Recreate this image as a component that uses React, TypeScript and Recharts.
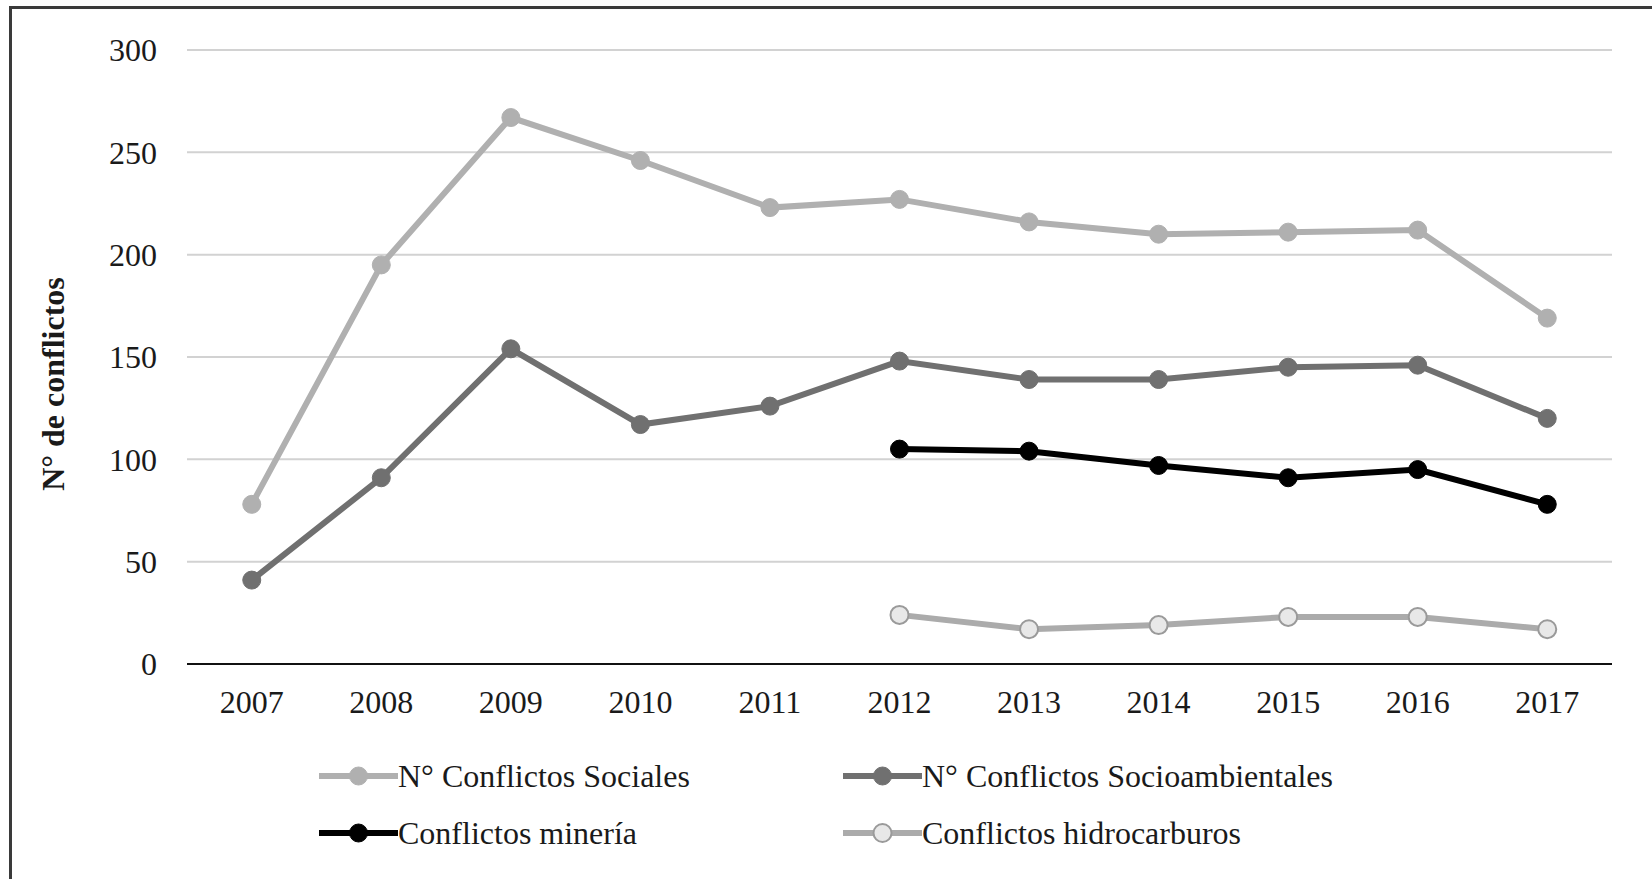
import React from "react";
import { LineChart, Line, CartesianGrid, XAxis, YAxis, Legend } from "recharts";

const years = ["2007", "2008", "2009", "2010", "2011", "2012", "2013", "2014", "2015", "2016", "2017"];
const sociales = [78, 195, 267, 246, 223, 227, 216, 210, 211, 212, 169];
const socioambientales = [41, 91, 154, 117, 126, 148, 139, 139, 145, 146, 120];
const mineria = [null, null, null, null, null, 105, 104, 97, 91, 95, 78];
const hidrocarburos = [null, null, null, null, null, 24, 17, 19, 23, 23, 17];
const yTicks = [0, 50, 100, 150, 200, 250, 300];

const FONT = "Liberation Serif, DejaVu Serif, serif";
const TEXT = "#1a1a1a";

const series = [
  { key: "sociales", name: "N° Conflictos Sociales", color: "#b0b0b0", dotFill: "#b0b0b0", dotStroke: "#b0b0b0" },
  { key: "socioambientales", name: "N° Conflictos Socioambientales", color: "#707070", dotFill: "#707070", dotStroke: "#707070" },
  { key: "mineria", name: "Conflictos minería", color: "#000000", dotFill: "#000000", dotStroke: "#000000" },
  { key: "hidrocarburos", name: "Conflictos hidrocarburos", color: "#ababab", dotFill: "#e8e8e8", dotStroke: "#9a9a9a" },
];

const data = years.map((year, i) => ({
  year,
  sociales: sociales[i],
  socioambientales: socioambientales[i],
  mineria: mineria[i],
  hidrocarburos: hidrocarburos[i],
}));

// legend slots: two columns, two rows
const legendPos = [
  { left: 319, top: 12 },
  { left: 843, top: 12 },
  { left: 319, top: 69 },
  { left: 843, top: 69 },
];

const renderLegend = () => (
  <div style={{ position: "relative", width: 1652, height: 110 }}>
    {series.map((s, i) => (
      <div
        key={s.key}
        style={{
          position: "absolute",
          left: legendPos[i].left,
          top: legendPos[i].top,
          display: "flex",
          alignItems: "center",
          height: 40,
        }}
      >
        <svg width={79} height={24}>
          <line x1={0} y1={12} x2={79} y2={12} stroke={s.color} strokeWidth={6} />
          <circle cx={39.5} cy={12} r={9} fill={s.dotFill} stroke={s.dotStroke} strokeWidth={s.key === "hidrocarburos" ? 2 : 1} />
        </svg>
        <span style={{ fontFamily: FONT, fontSize: 32, color: TEXT, lineHeight: 1, whiteSpace: "nowrap" }}>{s.name}</span>
      </div>
    ))}
  </div>
);

const YLabel = (props: any) => {
  const vb = props.viewBox || { x: 0, y: 0, height: 0 };
  const cx = vb.x + 53;
  const cy = vb.y + vb.height / 2 + 27;
  return (
    <text
      x={cx}
      y={cy}
      transform={`rotate(-90, ${cx}, ${cy})`}
      textAnchor="middle"
      dominantBaseline="central"
      fontFamily={FONT}
      fontSize={32}
      fontWeight="bold"
      fill={TEXT}
    >
      N° de conflictos
    </text>
  );
};

export default function App() {
  return (
    <div style={{ position: "fixed", left: 0, top: 0, width: 1652, height: 879, background: "#fff", overflow: "hidden" }}>
      <div
        style={{
          position: "absolute",
          left: 9,
          top: 6,
          width: 1700,
          height: 900,
          borderTop: "3px solid #3a3a3a",
          borderLeft: "3px solid #3a3a3a",
        }}
      />
      <div style={{ position: "absolute", left: 0, top: 0 }}>
        <LineChart width={1652} height={879} data={data} margin={{ top: 50, right: 40, left: 0, bottom: 155 }}>
          <CartesianGrid vertical={false} stroke="#d2d2d2" strokeWidth={2} />
          <XAxis
            dataKey="year"
            padding={{ left: 64.75, right: 64.75 }}
            axisLine={{ stroke: "#111", strokeWidth: 2 }}
            tickLine={false}
            tickMargin={20}
            height={60}
            interval={0}
            tick={{ fontFamily: FONT, fontSize: 32, fill: TEXT }}
          />
          <YAxis
            width={187}
            domain={[0, 300]}
            ticks={yTicks}
            axisLine={false}
            tickLine={false}
            tickMargin={24}
            tick={{ fontFamily: FONT, fontSize: 32, fill: TEXT }}
            label={<YLabel />}
          />
          <Legend
            layout="horizontal"
            verticalAlign="middle"
            align="center"
            content={renderLegend}
            wrapperStyle={{ top: 744, left: 0, width: 1652, height: 110 }}
          />
          {series.map((s) => (
            <Line
              key={s.key}
              dataKey={s.key}
              name={s.name}
              type="linear"
              stroke={s.color}
              strokeWidth={6}
              dot={{ r: 9, fill: s.dotFill, stroke: s.dotStroke, strokeWidth: s.key === "hidrocarburos" ? 2 : 1 }}
              activeDot={false}
              isAnimationActive={false}
            />
          ))}
        </LineChart>
      </div>
    </div>
  );
}
